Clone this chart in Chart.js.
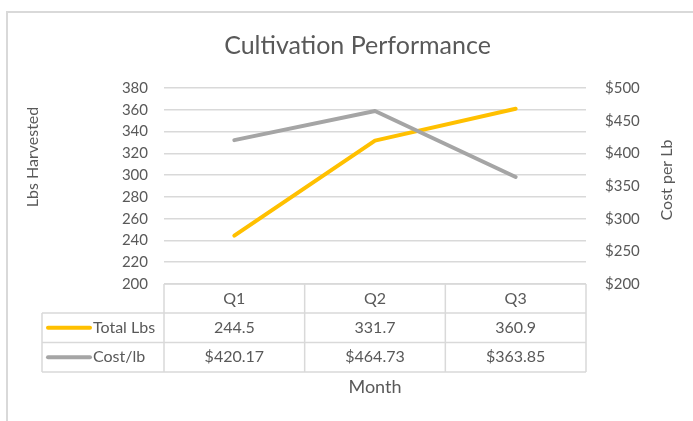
<!DOCTYPE html>
<html>
<head>
<meta charset="utf-8">
<script src="https://cdn.jsdelivr.net/npm/chart.js@4/dist/chart.umd.min.js"></script>
<style>
html,body{margin:0;padding:0;background:#fff;}
#wrap{position:relative;width:693px;height:421px;}
</style>
</head>
<body>
<div id="wrap"><canvas id="c" width="693" height="421"></canvas></div>
<script>
const categories = ['Q1', 'Q2', 'Q3'];
const totalLbs = [244.5, 331.7, 360.9];
const costPerLb = [420.17, 464.73, 363.85];
const seriesNames = ['Total Lbs', 'Cost/lb'];
const leftTicks = {min: 200, max: 380, step: 20};
const rightTicks = {min: 200, max: 500, step: 50};

const FONT = 'Lato, "Open Sans", sans-serif';
const TXT = '#595959';
const GRID = '#d9d9d9';
const COLORS = ['#FFC000', '#A5A5A5'];

function fmtLbs(v){ return v.toFixed(1); }
function fmtCost(v){ return '$' + v.toFixed(2); }

const framePlugin = {
  id: 'frame',
  beforeDraw(chart){
    const ctx = chart.ctx;
    ctx.save();
    ctx.fillStyle = '#fff';
    ctx.fillRect(0,0,chart.width,chart.height);
    ctx.strokeStyle = GRID;
    ctx.lineWidth = 2;
    ctx.beginPath();
    ctx.moveTo(7, chart.height);
    ctx.lineTo(7, 12);
    ctx.lineTo(chart.width, 12);
    ctx.stroke();
    ctx.restore();
  }
};

const extrasPlugin = {
  id: 'extras',
  afterDraw(chart){
    const ctx = chart.ctx;
    const ca = chart.chartArea;
    const xs = chart.scales.x;
    const n = categories.length;
    const cw = (ca.right - ca.left) / n;
    const top = ca.bottom;
    const rows = [top, top + 29, top + 58.5, top + 88];
    const legLeft = 42;
    ctx.save();
    ctx.strokeStyle = GRID;
    ctx.lineWidth = 1.5;
    ctx.beginPath();
    ctx.moveTo(ca.left, rows[0]); ctx.lineTo(ca.right, rows[0]);
    for (let r = 1; r < rows.length; r++){
      ctx.moveTo(legLeft, rows[r]); ctx.lineTo(ca.right, rows[r]);
    }
    for (let i = 0; i <= n; i++){
      const x = ca.left + i * cw;
      ctx.moveTo(x, rows[0]); ctx.lineTo(x, rows[3]);
    }
    ctx.moveTo(legLeft, rows[1]); ctx.lineTo(legLeft, rows[3]);
    ctx.stroke();

    ctx.fillStyle = TXT;
    ctx.font = '16px ' + FONT;
    ctx.textAlign = 'center';
    ctx.textBaseline = 'middle';
    categories.forEach((c, i) => {
      ctx.fillText(c, xs.getPixelForValue(i), (rows[0] + rows[1]) / 2);
    });
    const series = [totalLbs.map(fmtLbs), costPerLb.map(fmtCost)];
    series.forEach((vals, r) => {
      const cy = (rows[r + 1] + rows[r + 2]) / 2;
      vals.forEach((v, i) => {
        ctx.fillText(v, xs.getPixelForValue(i), cy);
      });
      ctx.strokeStyle = COLORS[r];
      ctx.lineWidth = 4;
      ctx.lineCap = 'round';
      ctx.beginPath();
      ctx.moveTo(48, cy);
      ctx.lineTo(90, cy);
      ctx.stroke();
      ctx.textAlign = 'left';
      ctx.fillText(seriesNames[r], 93, cy);
      ctx.textAlign = 'center';
    });

    ctx.font = '16px ' + FONT;
    ctx.fillStyle = TXT;
    ctx.textAlign = 'center';
    ctx.textBaseline = 'middle';
    ctx.save();
    ctx.translate(33, 157);
    ctx.rotate(-Math.PI / 2);
    ctx.fillText('Lbs Harvested', 0, 0);
    ctx.restore();
    ctx.save();
    ctx.translate(667, 180);
    ctx.rotate(-Math.PI / 2);
    ctx.fillText('Cost per Lb', 0, 0);
    ctx.restore();
    ctx.restore();
  }
};

new Chart(document.getElementById('c'), {
  type: 'line',
  data: {
    labels: categories,
    datasets: [
      {
        label: seriesNames[0], data: totalLbs, yAxisID: 'y',
        borderColor: COLORS[0], backgroundColor: COLORS[0],
        borderWidth: 4, pointRadius: 0, pointHoverRadius: 0, tension: 0,
        borderCapStyle: 'round', borderJoinStyle: 'round', order: 2
      },
      {
        label: seriesNames[1], data: costPerLb, yAxisID: 'y1',
        borderColor: COLORS[1], backgroundColor: COLORS[1],
        borderWidth: 4, pointRadius: 0, pointHoverRadius: 0, tension: 0,
        borderCapStyle: 'round', borderJoinStyle: 'round', order: 1
      }
    ]
  },
  options: {
    responsive: false,
    animation: false,
    events: [],
    layout: {padding: {left: 22, right: 0, top: 0, bottom: 0}},
    plugins: {
      legend: {display: false},
      tooltip: {enabled: false},
      title: {
        display: true,
        text: 'Cultivation Performance',
        color: TXT,
        font: {family: FONT, size: 25, weight: 'normal', lineHeight: 1.2},
        padding: {top: 31, bottom: 27}
      }
    },
    scales: {
      x: {
        type: 'category',
        offset: true,
        grid: {display: false},
        border: {display: false},
        ticks: {display: false},
        title: {
          display: true, text: 'Month', color: TXT,
          font: {family: FONT, size: 18}, padding: {top: 0, bottom: 23}
        },
        afterFit(s){ s.height = 137; }
      },
      y: {
        position: 'left',
        min: leftTicks.min, max: leftTicks.max,
        ticks: {stepSize: leftTicks.step, color: TXT, font: {family: FONT, size: 15}, padding: 16},
        grid: {color: GRID, lineWidth: 1.5, drawTicks: false},
        border: {display: false},
        afterFit(s){ s.width = 142; }
      },
      y1: {
        position: 'right',
        min: rightTicks.min, max: rightTicks.max,
        ticks: {stepSize: rightTicks.step, color: TXT, font: {family: FONT, size: 15}, padding: 19,
          callback: v => '$' + v},
        grid: {display: false, drawTicks: false},
        border: {display: false},
        afterFit(s){ s.width = 107; }
      }
    }
  },
  plugins: [framePlugin, extrasPlugin]
});
</script>
</body>
</html>
